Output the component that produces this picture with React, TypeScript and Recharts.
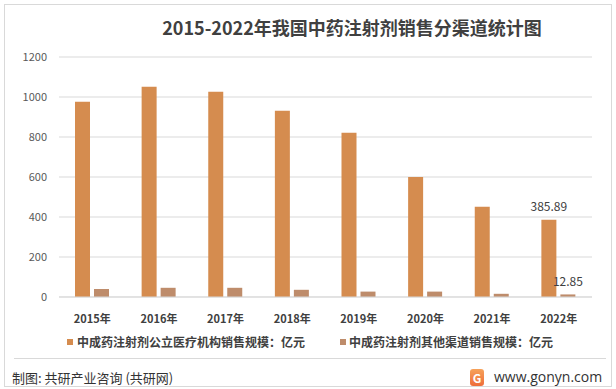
import { BarChart, Bar, XAxis, YAxis, CartesianGrid, LabelList } from 'recharts';

const years = ['2015年', '2016年', '2017年', '2018年', '2019年', '2020年', '2021年', '2022年'];
const publicSales = [976, 1051, 1026, 931, 821, 600, 451, 385.89];
const otherSales = [40, 46, 46, 36, 27, 27, 16, 12.85];
const yTicks = [0, 200, 400, 600, 800, 1000, 1200];

const publicName = '中成药注射剂公立医疗机构销售规模：亿元';
const otherName = '中成药注射剂其他渠道销售规模：亿元';

const data = years.map((year, i) => ({
  year,
  publicSales: publicSales[i],
  otherSales: otherSales[i],
  // only the last year carries a value label
  publicLabel: i === years.length - 1 ? publicSales[i] : undefined,
  otherLabel: i === years.length - 1 ? otherSales[i] : undefined,
}));

const font = '"Noto Sans CJK SC", "Noto Sans", sans-serif';
const mainColor = '#D58C4F';
const otherColor = '#BE8C6B';

export default function App() {
  return (
    <div style={{ position: 'absolute', left: 0, top: 0, width: 616, height: 389, background: '#fff', fontFamily: font, overflow: 'hidden' }}>
      <div style={{ position: 'absolute', left: 4, top: 4, width: 606, height: 381, border: '1px solid #d9d9d9' }} />
      <div style={{ position: 'absolute', left: 0, top: 15, width: 704, textAlign: 'center', fontSize: 18, fontWeight: 700, color: '#404040', lineHeight: '24px' }}>
        2015-2022年我国中药注射剂销售分渠道统计图
      </div>
      <BarChart
        width={616}
        height={389}
        data={data}
        margin={{ top: 57, right: 24, bottom: 62, left: 0 }}
        barSize={15}
        barGap={4}
      >
        <CartesianGrid vertical={false} stroke="#d9d9d9" />
        <XAxis
          dataKey="year"
          height={30}
          tickLine={false}
          tickSize={0}
          tickMargin={18}
          axisLine={{ stroke: '#d9d9d9' }}
          tick={{ fill: '#404040', fontSize: 11, fontWeight: 600, fontFamily: font }}
        />
        <YAxis
          width={59}
          domain={[0, 1200]}
          ticks={yTicks}
          axisLine={false}
          tickLine={false}
          tickSize={0}
          tickMargin={12}
          tick={{ fill: '#595959', fontSize: 11, fontFamily: font }}
        />
        <Bar dataKey="publicSales" fill={mainColor} isAnimationActive={false}>
          <LabelList dataKey="publicLabel" position="top" offset={9} fill="#404040" fontSize={12} fontFamily={font} />
        </Bar>
        <Bar dataKey="otherSales" fill={otherColor} isAnimationActive={false}>
          <LabelList dataKey="otherLabel" position="top" offset={8} fill="#404040" fontSize={12} fontFamily={font} />
        </Bar>
      </BarChart>
      <div style={{ position: 'absolute', top: 334, left: 67, display: 'flex', alignItems: 'center', fontSize: 12, color: '#404040', fontWeight: 600, lineHeight: '16px' }}>
        <span style={{ width: 6, height: 6, background: mainColor, marginRight: 4 }} />
        <span>{publicName}</span>
        <span style={{ width: 6, height: 6, background: otherColor, marginLeft: 35, marginRight: 3 }} />
        <span>{otherName}</span>
      </div>
      <div style={{ position: 'absolute', left: 14, top: 358, width: 592, height: 1, background: '#d9d9d9' }} />
      <div style={{ position: 'absolute', left: 12, top: 369, fontSize: 13, color: '#333', lineHeight: '18px' }}>
        制图: 共研产业咨询 (共研网)
      </div>
      <div style={{ position: 'absolute', left: 470, top: 369, width: 14, height: 17, borderRadius: 3, background: 'linear-gradient(#f6a25a, #ee6d3a)', color: '#fff', fontSize: 12, fontWeight: 700, textAlign: 'center', lineHeight: '17px' }}>
        G
      </div>
      <div style={{ position: 'absolute', left: 494, top: 368, fontSize: 14, color: '#333', lineHeight: '18px', fontFamily: '"Open Sans", sans-serif' }}>
        www.gonyn.com
      </div>
    </div>
  );
}
